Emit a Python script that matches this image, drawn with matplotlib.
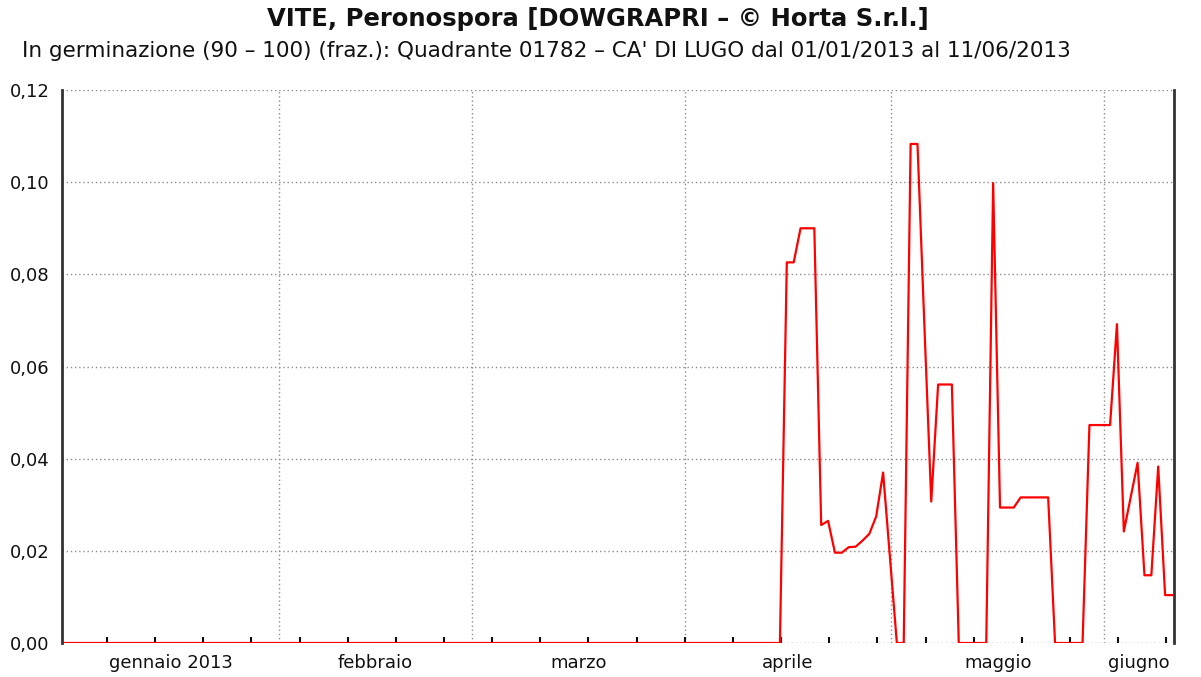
import numpy as np
import pandas as pd
import matplotlib
matplotlib.use("Agg")
import matplotlib.pyplot as plt
import matplotlib.dates as mdates

# --- data: daily germination fraction, 01/01/2013 .. 11/06/2013 ---
start = pd.Timestamp("2013-01-01")
dates = pd.date_range(start, "2013-06-11", freq="D")

# nothing until mid April
quiet = [0.0] * 105
active = [
    0.0826, 0.0826, 0.0900, 0.0900, 0.0900,
    0.0256, 0.0265, 0.0196, 0.0196, 0.0208, 0.0209, 0.0222, 0.0237, 0.0275, 0.0370, 0.0185,
    0.0, 0.0, 0.1083, 0.1083, 0.0690, 0.0307, 0.0561, 0.0561, 0.0561,
    0.0, 0.0, 0.0, 0.0, 0.0, 0.0998, 0.0294, 0.0294, 0.0294,
    0.0316, 0.0316, 0.0316, 0.0316, 0.0316, 0.0, 0.0, 0.0, 0.0, 0.0,
    0.0473, 0.0473, 0.0473, 0.0473, 0.0692, 0.0242, 0.0316, 0.0391, 0.0147, 0.0147,
    0.0383, 0.0104, 0.0104,
]
values = quiet + active

month_starts = ["2013-02-01", "2013-03-01", "2013-04-01", "2013-05-01", "2013-06-01"]
month_labels = ["gennaio 2013", "febbraio", "marzo", "aprile", "maggio", "giugno"]
y_ticks = [0.0, 0.02, 0.04, 0.06, 0.08, 0.10, 0.12]

title = "VITE, Peronospora [DOWGRAPRI \u2013 \u00a9 Horta S.r.l.]"
subtitle = ("In germinazione (90 \u2013 100) (fraz.): Quadrante 01782 \u2013 "
            "CA' DI LUGO dal 01/01/2013 al 11/06/2013")

# --- figure ---
plt.rcParams["font.family"] = ["DejaVu Sans"]
fig = plt.figure(figsize=(12.01, 6.77), dpi=100)
ax = fig.add_axes([0.0519, 0.0502, 0.9256, 0.8168])

# each day's value sits just before midnight of that day
x = dates - pd.Timedelta(hours=4)
ax.plot(x, values, color="#ff0000", lw=1.6, zorder=3)

x_lo = start - pd.Timedelta(hours=12)
x_hi = pd.Timestamp("2013-06-11 03:00")
ax.set_xlim(x_lo, x_hi)
ax.set_ylim(0, 0.12)

# grid: horizontal at every y tick, vertical at month boundaries
for yv in y_ticks:
    ax.axhline(yv, color="#8c8c8c", lw=1, ls=(0, (1, 2)), zorder=1)
for m in month_starts:
    ax.axvline(pd.Timestamp(m), color="#8c8c8c", lw=1, ls=(0, (1, 2)), zorder=1)

for s in ["top", "bottom"]:
    ax.spines[s].set_visible(False)
for s in ["left", "right"]:
    ax.spines[s].set_color("#333333")
    ax.spines[s].set_linewidth(2)
    ax.spines[s].set_zorder(4)

ax.set_yticks(y_ticks)
ax.set_yticklabels([f"{v:.2f}".replace(".", ",") for v in y_ticks])
ax.tick_params(axis="y", length=0, pad=9, labelsize=13, colors="#111111")

# weekly ticks on Mondays, month names centred in each month
ax.xaxis.set_major_locator(mdates.WeekdayLocator(byweekday=mdates.MO))
ax.xaxis.set_major_formatter(plt.NullFormatter())
ax.tick_params(axis="x", which="major", direction="in", length=4, width=1.5,
               color="#111111")

edges = [x_lo] + [pd.Timestamp(m) for m in month_starts] + [x_hi]
centres = [a + (b - a) / 2 for a, b in zip(edges[:-1], edges[1:])]
ax.set_xticks(centres, minor=True)
ax.set_xticklabels(month_labels, minor=True)
ax.tick_params(axis="x", which="minor", length=0, pad=8, labelsize=13,
               labelcolor="#111111")

fig.text(0.4975, 0.972, title, ha="center", va="center", fontsize=17.5,
         fontweight="bold", color="#111111")
fig.text(0.018, 0.924, subtitle, ha="left", va="center", fontsize=15.5,
         color="#111111")

fig.savefig("out.png", dpi=100)
